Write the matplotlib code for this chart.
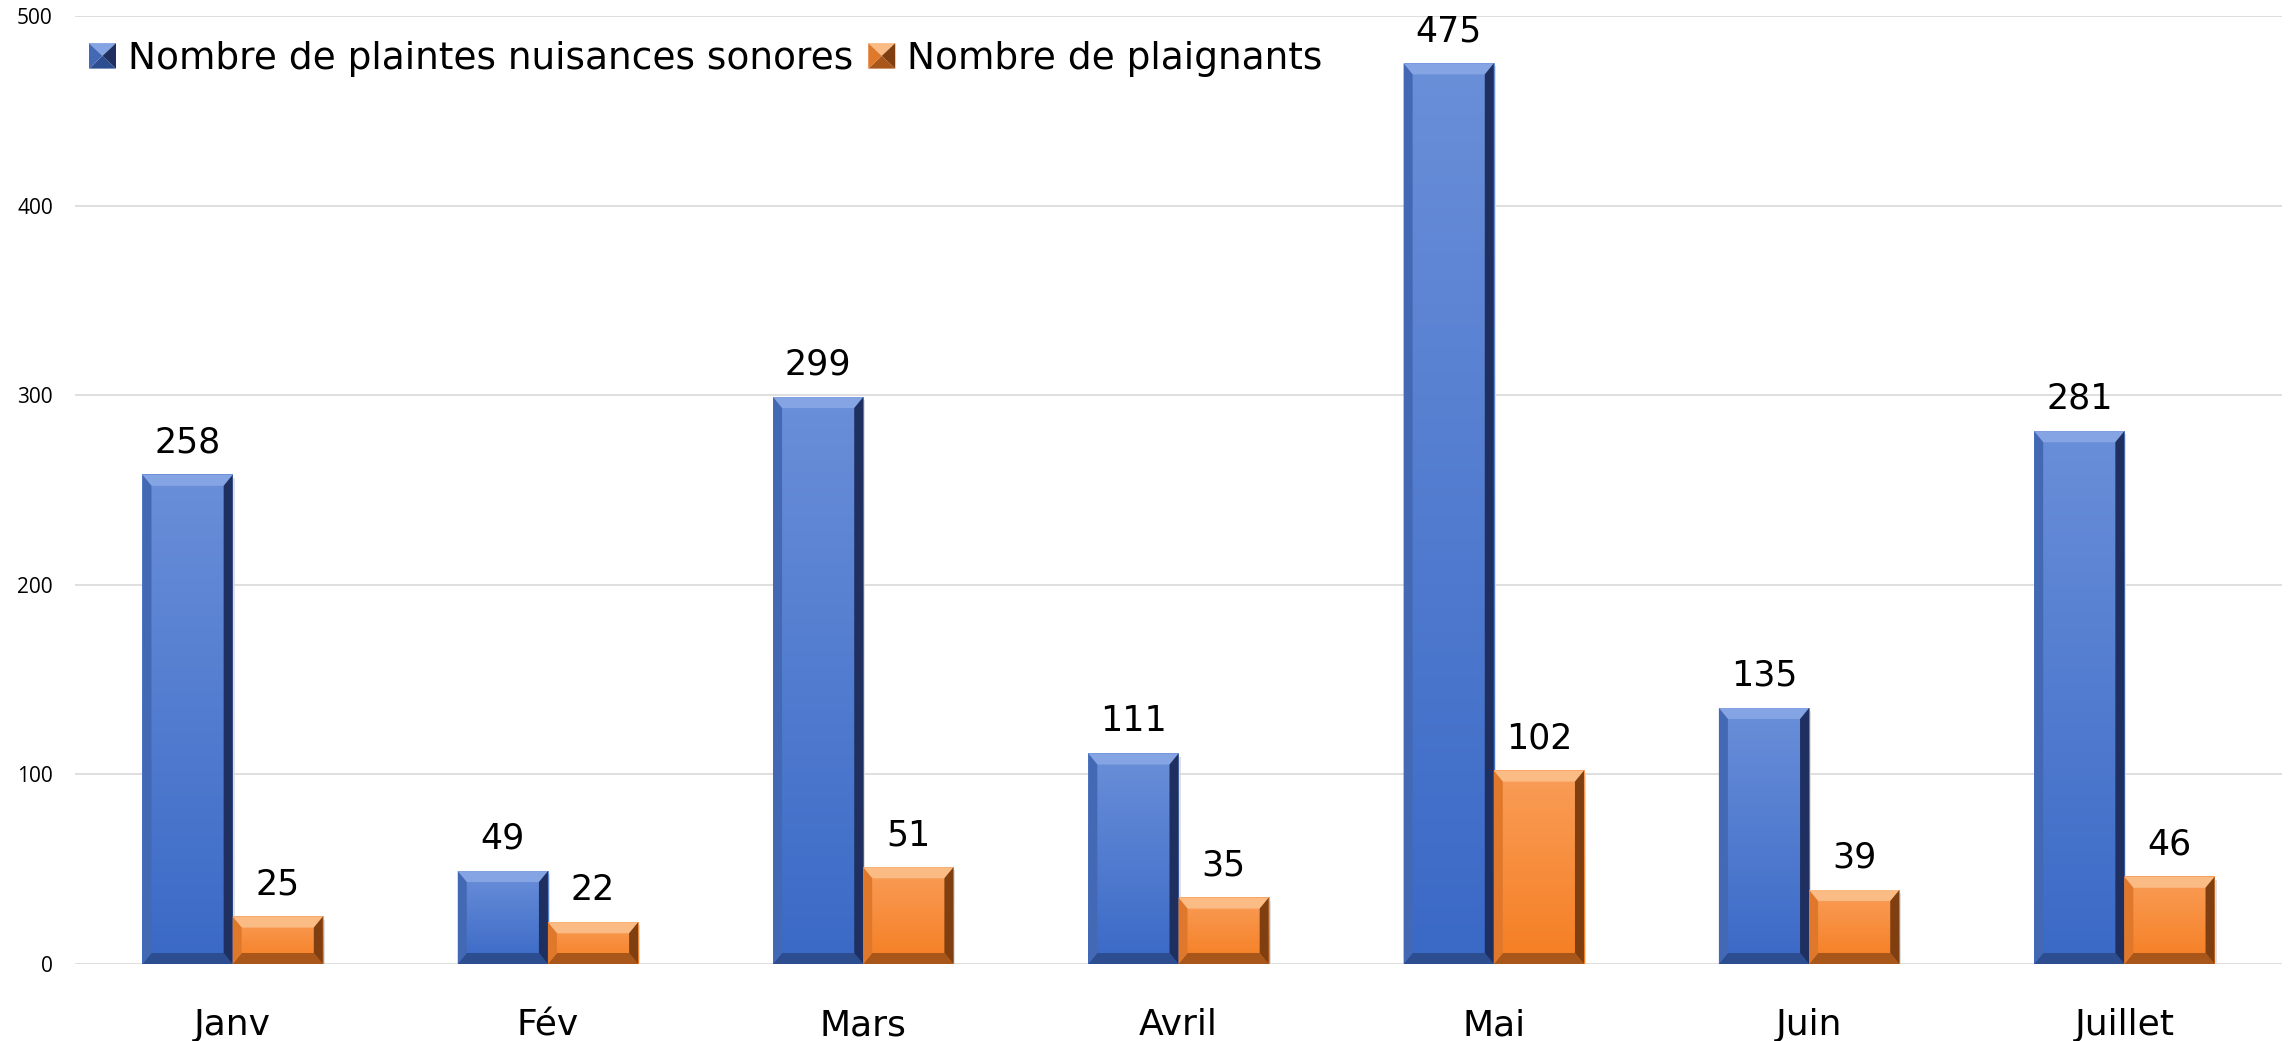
import matplotlib
matplotlib.use("Agg")
import matplotlib.pyplot as plt
import numpy as np
from matplotlib.patches import Polygon
from matplotlib.legend_handler import HandlerBase
from matplotlib.colors import LinearSegmentedColormap

mois = ["Janv", "Fév", "Mars", "Avril", "Mai", "Juin", "Juillet"]
plaintes = [258, 49, 299, 111, 475, 135, 281]
plaignants = [25, 22, 51, 35, 102, 39, 46]
series = ["Nombre de plaintes nuisances sonores", "Nombre de plaignants"]

# colour sets : face top, face bottom, top bevel, left, right, bottom
blue = dict(ftop="#6a8fd9", fbot="#3a69c6", top="#85a4e3", left="#4469b4",
            right="#1f3060", bot="#2c4d90")
orange = dict(ftop="#f99d58", fbot="#f57e22", top="#fbbb85", left="#e0782c",
              right="#7f3f10", bot="#a9561a")

W, H = 2295, 1041
fig = plt.figure(figsize=(W / 100, H / 100), dpi=100)
ax = fig.add_axes([75 / W, (H - 964) / H, (2282 - 75) / W, (964 - 16) / H])

x = np.arange(len(mois))
bw = 0.286
b1 = ax.bar(x - bw / 2, plaintes, bw, color=blue["fbot"], zorder=2)
b2 = ax.bar(x + bw / 2, plaignants, bw, color=orange["fbot"], zorder=2)

ax.set_xlim(-0.5, len(mois) - 0.5)
ax.set_ylim(0, 500)
ax.set_yticks(range(0, 501, 100))
ax.set_xticks(x)
ax.set_xticklabels(mois, fontsize=26, family="DejaVu Sans")
ax.tick_params(axis="x", length=0, pad=32)
ax.tick_params(axis="y", length=0, pad=16, labelsize=15)
for t in ax.get_yticklabels():
    t.set_family("Open Sans")
ax.grid(axis="y", color="#d9d9d9", lw=1.2, zorder=0)
for s in ax.spines.values():
    s.set_visible(False)

# pixel -> data scale for the bevels
p0 = ax.transData.transform((0, 0))
p1 = ax.transData.transform((1, 1))
sx, sy = p1[0] - p0[0], p1[1] - p0[1]
bx, by = 9 / sx, 11 / sy


def bevel(bars, c):
    cmap = LinearSegmentedColormap.from_list("f", [c["fbot"], c["ftop"]])
    grad = np.linspace(0, 1, 256).reshape(-1, 1)
    for r in bars:
        x0, y0 = r.get_x(), r.get_y()
        x1, y1 = x0 + r.get_width(), y0 + r.get_height()
        # soft shadow
        ax.add_patch(plt.Rectangle((x0 + 2 / sx, y0 - 3 / sy), x1 - x0, y1 - y0,
                                   color="#000000", alpha=0.12, lw=0, zorder=1.5))
        ax.imshow(grad, extent=[x0, x1, y0, y1], origin="lower", aspect="auto",
                  cmap=cmap, zorder=2.1, interpolation="bilinear")
        polys = [
            ([(x0, y1), (x1, y1), (x1 - bx, y1 - by), (x0 + bx, y1 - by)], c["top"]),
            ([(x0, y0), (x1, y0), (x1 - bx, y0 + by), (x0 + bx, y0 + by)], c["bot"]),
            ([(x0, y0), (x0, y1), (x0 + bx, y1 - by), (x0 + bx, y0 + by)], c["left"]),
            ([(x1, y0), (x1, y1), (x1 - bx, y1 - by), (x1 - bx, y0 + by)], c["right"]),
        ]
        for pts, col in polys:
            ax.add_patch(Polygon(pts, closed=True, fc=col, ec="none", zorder=2.2))


bevel(b1, blue)
bevel(b2, orange)
ax.set_xlim(-0.5, len(mois) - 0.5)
ax.set_ylim(0, 500)

for b in (b1, b2):
    ax.bar_label(b, padding=11, fontsize=25, family="DejaVu Sans", color="black")


class PyramidHandler(HandlerBase):
    def __init__(self, c):
        super().__init__()
        self.c = c

    def create_artists(self, legend, orig_handle, xd, yd, width, height, fontsize, trans):
        c = self.c
        x0, y0 = -xd, -yd
        x1, y1 = x0 + width, y0 + height
        cx, cy = (x0 + x1) / 2, (y0 + y1) / 2
        tris = [
            ([(x0, y1), (x1, y1), (cx, cy)], c["top"]),
            ([(x0, y0), (x1, y0), (cx, cy)], c["bot"]),
            ([(x0, y0), (x0, y1), (cx, cy)], c["left"]),
            ([(x1, y0), (x1, y1), (cx, cy)], c["right"]),
        ]
        return [Polygon(p, closed=True, fc=col, ec="none", transform=trans) for p, col in tris]


h1 = plt.Rectangle((0, 0), 1, 1)
h2 = plt.Rectangle((0, 0), 1, 1)
fig.legend([h1, h2], series, loc="center left", bbox_to_anchor=(89 / W, 1 - 59 / H),
           ncol=2, frameon=False, borderpad=0, borderaxespad=0,
           prop={"family": "DejaVu Sans", "size": 27},
           handlelength=0.72, handleheight=0.67, handletextpad=0.32, columnspacing=0.4,
           handler_map={h1: PyramidHandler(blue), h2: PyramidHandler(orange)})

fig.savefig("out.png", dpi=100)
